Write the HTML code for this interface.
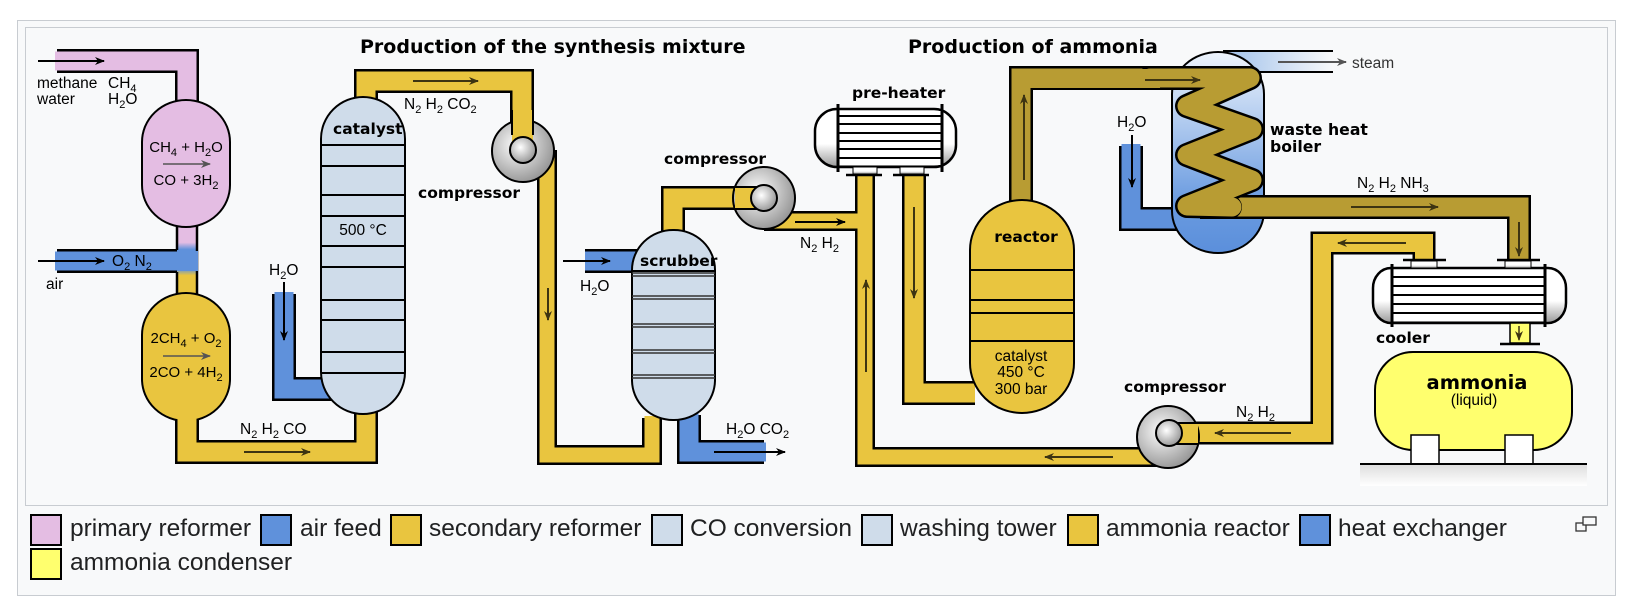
<!DOCTYPE html>
<html><head><meta charset="utf-8"><style>
html,body{margin:0;padding:0;background:#fff;}
#w{position:relative;width:1638px;height:614px;overflow:hidden;}
#frame{position:absolute;left:17px;top:20px;width:1597px;height:574px;border:1px solid #c8ccd1;background:#f8f9fa;}
#inner{position:absolute;left:25px;top:27px;width:1581px;height:477px;border:1px solid #c8ccd1;background:#f8f9fa;}
.lg{position:absolute;font-family:"Liberation Sans",sans-serif;font-size:24.5px;color:#202122;line-height:30px;}
.sw{position:absolute;width:28px;height:28px;border:2px solid #000;}
svg{position:absolute;left:0;top:0;}
</style></head><body><div id="w">
<div id="frame"></div><div id="inner"></div>
<svg width="1638" height="614" viewBox="0 0 1638 614" font-family="Liberation Sans, sans-serif">
<defs>
<marker id="ab" markerWidth="10" markerHeight="8" refX="9" refY="4" orient="auto" markerUnits="userSpaceOnUse"><path d="M0,0 L10,4 L0,8 L3,4z" fill="#000"/></marker>
<marker id="ad" markerWidth="10" markerHeight="8" refX="9" refY="4" orient="auto" markerUnits="userSpaceOnUse"><path d="M0,0 L10,4 L0,8 L3,4z" fill="#3d3412"/></marker>
<marker id="ag" markerWidth="10" markerHeight="8" refX="9" refY="4" orient="auto" markerUnits="userSpaceOnUse"><path d="M0,0 L10,4 L0,8 L3,4z" fill="#555"/></marker>
<radialGradient id="comp" cx="0.4" cy="0.4" r="0.7"><stop offset="0" stop-color="#fff"/><stop offset="1" stop-color="#8a8a8a"/></radialGradient>
<linearGradient id="hx" x1="0" y1="0" x2="0" y2="1"><stop offset="0" stop-color="#fff"/><stop offset="0.6" stop-color="#fff"/><stop offset="1" stop-color="#999"/></linearGradient>
<linearGradient id="boil" x1="0" y1="0" x2="0" y2="1"><stop offset="0" stop-color="#eef4fc"/><stop offset="0.75" stop-color="#6a9be0"/><stop offset="1" stop-color="#5b8fdb"/></linearGradient>
<linearGradient id="steam" x1="0" y1="0" x2="1" y2="0"><stop offset="0" stop-color="#9fc0ea"/><stop offset="1" stop-color="#f8f9fa"/></linearGradient>
<linearGradient id="mid" x1="0" y1="0" x2="0" y2="1"><stop offset="0" stop-color="#e4bde3"/><stop offset="0.25" stop-color="#e4bde3"/><stop offset="0.35" stop-color="#5f91db"/><stop offset="0.62" stop-color="#5f91db"/><stop offset="0.72" stop-color="#e9c53f"/><stop offset="1" stop-color="#e9c53f"/></linearGradient>
<linearGradient id="gnd" x1="0" y1="0" x2="0" y2="1"><stop offset="0" stop-color="#ddd"/><stop offset="1" stop-color="#fff"/></linearGradient>
</defs>

<text x="360" y="53" font-family="DejaVu Sans" font-weight="bold" font-size="19">Production of the synthesis mixture</text>
<text x="908" y="53" font-family="DejaVu Sans" font-weight="bold" font-size="19">Production of ammonia</text>

<path d="M57,61 H187 V102" fill="none" stroke="#000" stroke-width="24"/>
<path d="M55,61 H187 V104" fill="none" stroke="#e4bde3" stroke-width="19"/>
<path d="M57,261 H187" fill="none" stroke="#000" stroke-width="24"/>
<path d="M55,261 H187" fill="none" stroke="#5f91db" stroke-width="19"/>
<rect x="177" y="225" width="20" height="70" fill="url(#mid)"/>
<line x1="177" y1="225" x2="177" y2="250" stroke="#000" stroke-width="2.5"/>
<line x1="177" y1="272" x2="177" y2="295" stroke="#000" stroke-width="2.5"/>
<line x1="197" y1="225" x2="197" y2="295" stroke="#000" stroke-width="2.5"/>
<rect x="177" y="251" width="21" height="20" fill="#5f91db"/>
<line x1="38" y1="61" x2="104" y2="61" stroke="#000" stroke-width="2" marker-end="url(#ab)"/>
<line x1="38" y1="261" x2="104" y2="261" stroke="#000" stroke-width="2" marker-end="url(#ab)"/>
<g font-size="15.5">
<text x="37" y="88">methane</text><text x="108" y="88">CH<tspan font-size="11" dy="4">4</tspan></text>
<text x="37" y="104">water</text><text x="108" y="104">H<tspan font-size="11" dy="4">2</tspan><tspan dy="-4">O</tspan></text>
<text x="112" y="266">O<tspan font-size="11" dy="4">2</tspan><tspan dy="-4">  N</tspan><tspan font-size="11" dy="4">2</tspan></text>
<text x="46" y="289">air</text>
</g>

<rect x="142" y="100" width="88" height="127" rx="44" ry="42" fill="#e4bde3" stroke="#000" stroke-width="2"/>
<rect x="142" y="293" width="88" height="128" rx="44" ry="42" fill="#e9c53f" stroke="#000" stroke-width="2"/>
<g font-size="15" text-anchor="middle">
<text x="186" y="152">CH<tspan font-size="11" dy="4">4</tspan><tspan dy="-4"> + H</tspan><tspan font-size="11" dy="4">2</tspan><tspan dy="-4">O</tspan></text>
<text x="186" y="185">CO + 3H<tspan font-size="11" dy="4">2</tspan></text>
<text x="186" y="343">2CH<tspan font-size="11" dy="4">4</tspan><tspan dy="-4"> + O</tspan><tspan font-size="11" dy="4">2</tspan></text>
<text x="186" y="377">2CO + 4H<tspan font-size="11" dy="4">2</tspan></text>
</g>
<line x1="163" y1="164" x2="210" y2="164" stroke="#555" stroke-width="1.5" marker-end="url(#ag)"/>
<line x1="163" y1="356" x2="210" y2="356" stroke="#555" stroke-width="1.5" marker-end="url(#ag)"/>

<path d="M187,420 V452 H366 V412" fill="none" stroke="#000" stroke-width="24"/>
<path d="M187,418 V452 H366 V410" fill="none" stroke="#e9c53f" stroke-width="19"/>
<line x1="244" y1="452" x2="310" y2="452" stroke="#3d3412" stroke-width="2" marker-end="url(#ad)"/>
<text x="240" y="434" font-size="15.5">N<tspan font-size="11" dy="4">2</tspan><tspan dy="-4">  H</tspan><tspan font-size="11" dy="4">2</tspan><tspan dy="-4">  CO</tspan></text>

<path d="M284,294 V389 H335" fill="none" stroke="#000" stroke-width="24"/>
<path d="M284,292 V389 H335" fill="none" stroke="#5f91db" stroke-width="19"/>
<line x1="284" y1="282" x2="284" y2="340" stroke="#000" stroke-width="2" marker-end="url(#ab)"/>
<text x="269" y="275" font-size="15.5">H<tspan font-size="11" dy="4">2</tspan><tspan dy="-4">O</tspan></text>

<path d="M366,100 V81 H522 V150" fill="none" stroke="#000" stroke-width="24"/>
<path d="M366,102 V81 H522 V150" fill="none" stroke="#e9c53f" stroke-width="19"/>
<line x1="413" y1="81" x2="478" y2="81" stroke="#3d3412" stroke-width="2" marker-end="url(#ad)"/>
<text x="404" y="109" font-size="15.5">N<tspan font-size="11" dy="4">2</tspan><tspan dy="-4">  H</tspan><tspan font-size="11" dy="4">2</tspan><tspan dy="-4">  CO</tspan><tspan font-size="11" dy="4">2</tspan></text>

<rect x="321" y="97" width="84" height="317" rx="42" ry="42" fill="#cfdcea" stroke="#000" stroke-width="2"/>
<g stroke="#000" stroke-width="2">
<line x1="321" y1="145" x2="405" y2="145"/><line x1="321" y1="166" x2="405" y2="166"/>
<line x1="321" y1="195" x2="405" y2="195"/><line x1="321" y1="216" x2="405" y2="216"/>
<line x1="321" y1="246" x2="405" y2="246"/><line x1="321" y1="267" x2="405" y2="267"/>
<line x1="321" y1="300" x2="405" y2="300"/><line x1="321" y1="320" x2="405" y2="320"/>
<line x1="321" y1="352" x2="405" y2="352"/><line x1="321" y1="373" x2="405" y2="373"/>
</g>
<text x="333" y="134" font-family="DejaVu Sans" font-weight="bold" font-size="15.5">catalyst</text>
<text x="363" y="235" font-size="15.5" text-anchor="middle">500 °C</text>

<path d="M547,150 V455 H652 V418" fill="none" stroke="#000" stroke-width="20"/>
<path d="M547,150 V455 H652 V416" fill="none" stroke="#e9c53f" stroke-width="15"/>
<line x1="548" y1="288" x2="548" y2="320" stroke="#3d3412" stroke-width="2" marker-end="url(#ad)"/>
<circle cx="523" cy="151" r="31" fill="url(#comp)" stroke="#000" stroke-width="2"/>
<rect x="512" y="110" width="21" height="40" fill="#e9c53f"/>
<line x1="533" y1="92" x2="533" y2="135" stroke="#000" stroke-width="2"/>
<line x1="512" y1="110" x2="512" y2="135" stroke="#000" stroke-width="2"/>
<circle cx="523" cy="150" r="13" fill="url(#comp)" stroke="#000" stroke-width="2"/>
<text x="418" y="198" font-family="DejaVu Sans" font-weight="bold" font-size="15.5">compressor</text>

<path d="M585,261 H640" fill="none" stroke="#000" stroke-width="24"/>
<path d="M585,261 H640" fill="none" stroke="#5f91db" stroke-width="19"/>
<line x1="563" y1="261" x2="610" y2="261" stroke="#000" stroke-width="2" marker-end="url(#ab)"/>
<text x="580" y="291" font-size="15.5">H<tspan font-size="11" dy="4">2</tspan><tspan dy="-4">O</tspan></text>
<path d="M689,415 V452 H764" fill="none" stroke="#000" stroke-width="24"/>
<path d="M689,413 V452 H766" fill="none" stroke="#5f91db" stroke-width="19"/>
<line x1="714" y1="452" x2="785" y2="452" stroke="#000" stroke-width="2" marker-end="url(#ab)"/>
<text x="726" y="434" font-size="15.5">H<tspan font-size="11" dy="4">2</tspan><tspan dy="-4">O  CO</tspan><tspan font-size="11" dy="4">2</tspan></text>

<path d="M673,235 V198 H764" fill="none" stroke="#000" stroke-width="24"/>
<path d="M673,237 V198 H764" fill="none" stroke="#e9c53f" stroke-width="19"/>
<path d="M764,221 H865 M865,174 V457 H1168" fill="none" stroke="#000" stroke-width="20"/>
<path d="M764,221 H865 M865,172 V457 H1168" fill="none" stroke="#e9c53f" stroke-width="15"/>
<line x1="795" y1="222" x2="845" y2="222" stroke="#000" stroke-width="2" marker-end="url(#ab)"/>
<line x1="866" y1="372" x2="866" y2="280" stroke="#3d3412" stroke-width="2" marker-end="url(#ad)"/>
<line x1="1113" y1="457" x2="1045" y2="457" stroke="#3d3412" stroke-width="2" marker-end="url(#ad)"/>
<text x="800" y="248" font-size="15.5">N<tspan font-size="11" dy="4">2</tspan><tspan dy="-4">  H</tspan><tspan font-size="11" dy="4">2</tspan></text>

<rect x="632" y="230" width="83" height="190" rx="41" ry="40" fill="#cfdcea" stroke="#000" stroke-width="2"/>
<g stroke="#333" stroke-width="1.5">
<line x1="632" y1="273" x2="715" y2="273"/><line x1="632" y1="276" x2="715" y2="276"/>
<line x1="632" y1="296" x2="715" y2="296"/><line x1="632" y1="299" x2="715" y2="299"/>
<line x1="632" y1="324" x2="715" y2="324"/><line x1="632" y1="327" x2="715" y2="327"/>
<line x1="632" y1="350" x2="715" y2="350"/><line x1="632" y1="353" x2="715" y2="353"/>
<line x1="632" y1="375" x2="715" y2="375"/><line x1="632" y1="378" x2="715" y2="378"/>
</g>
<line x1="632" y1="271" x2="715" y2="271" stroke="#000" stroke-width="2"/>
<text x="640" y="266" font-family="DejaVu Sans" font-weight="bold" font-size="15.5">scrubber</text>

<circle cx="764" cy="198" r="31" fill="url(#comp)" stroke="#000" stroke-width="2"/>
<rect x="735" y="188" width="29" height="20" fill="#e9c53f"/>
<line x1="735" y1="187" x2="764" y2="187" stroke="#000" stroke-width="2"/>
<line x1="735" y1="209" x2="764" y2="209" stroke="#000" stroke-width="2"/>
<circle cx="764" cy="198" r="13" fill="url(#comp)" stroke="#000" stroke-width="2"/>
<text x="664" y="164" font-family="DejaVu Sans" font-weight="bold" font-size="15.5">compressor</text>

<path d="M914,174 V393 H975" fill="none" stroke="#000" stroke-width="24"/>
<path d="M914,172 V393 H975" fill="none" stroke="#e9c53f" stroke-width="19"/>
<line x1="914" y1="207" x2="914" y2="298" stroke="#3d3412" stroke-width="2" marker-end="url(#ad)"/>

<rect x="815" y="109" width="141" height="58" rx="22" ry="22" fill="url(#hx)" stroke="#000" stroke-width="2.5"/>
<rect x="838" y="111" width="104" height="54" fill="#fff"/>
<g stroke="#000" stroke-width="2">
<line x1="838" y1="116" x2="942" y2="116"/><line x1="838" y1="124" x2="942" y2="124"/>
<line x1="838" y1="133" x2="942" y2="133"/><line x1="838" y1="141" x2="942" y2="141"/>
<line x1="838" y1="149" x2="942" y2="149"/><line x1="838" y1="158" x2="942" y2="158"/>
</g>
<line x1="838" y1="104" x2="838" y2="172" stroke="#000" stroke-width="3"/>
<line x1="942" y1="104" x2="942" y2="172" stroke="#000" stroke-width="3"/>
<rect x="853" y="167" width="24" height="7" fill="url(#hx)" stroke="#000" stroke-width="1"/>
<rect x="900" y="167" width="24" height="7" fill="url(#hx)" stroke="#000" stroke-width="1"/>
<line x1="846" y1="175" x2="882" y2="175" stroke="#000" stroke-width="2.5"/>
<line x1="893" y1="175" x2="929" y2="175" stroke="#000" stroke-width="2.5"/>
<text x="852" y="98" font-family="DejaVu Sans" font-weight="bold" font-size="15.5">pre-heater</text>

<path d="M1021,205 V78 H1250" fill="none" stroke="#000" stroke-width="24"/>
<path d="M1021,207 V78 H1250" fill="none" stroke="#b89c33" stroke-width="19"/>
<line x1="1024" y1="180" x2="1024" y2="95" stroke="#3d3412" stroke-width="2" marker-end="url(#ad)"/>

<rect x="970" y="200" width="104" height="213" rx="52" ry="50" fill="#e9c53f" stroke="#000" stroke-width="2"/>
<g stroke="#000" stroke-width="2">
<line x1="970" y1="270" x2="1074" y2="270"/><line x1="970" y1="300" x2="1074" y2="300"/>
<line x1="970" y1="313" x2="1074" y2="313"/><line x1="970" y1="341" x2="1074" y2="341"/>
</g>
<text x="1026" y="242" font-family="DejaVu Sans" font-weight="bold" font-size="15.5" text-anchor="middle">reactor</text>
<g font-size="15.5" text-anchor="middle"><text x="1021" y="361">catalyst</text><text x="1021" y="377">450 °C</text><text x="1021" y="394">300 bar</text></g>

<rect x="1223" y="51" width="110" height="21" fill="url(#steam)"/>
<line x1="1223" y1="51" x2="1333" y2="51" stroke="#000" stroke-width="2"/>
<line x1="1223" y1="72" x2="1333" y2="72" stroke="#000" stroke-width="2"/>
<line x1="1278" y1="62" x2="1346" y2="62" stroke="#555" stroke-width="2" marker-end="url(#ag)"/>
<text x="1352" y="68" font-size="15.5" fill="#333">steam</text>

<path d="M1131,146 V219 H1180" fill="none" stroke="#000" stroke-width="24"/>
<path d="M1131,144 V219 H1180" fill="none" stroke="#5f91db" stroke-width="19"/>
<line x1="1132" y1="135" x2="1132" y2="187" stroke="#000" stroke-width="2" marker-end="url(#ab)"/>
<text x="1117" y="127" font-size="15.5">H<tspan font-size="11" dy="4">2</tspan><tspan dy="-4">O</tspan></text>

<rect x="1172" y="52" width="92" height="201" rx="46" ry="42" fill="url(#boil)" stroke="#000" stroke-width="2"/>
<path d="M1200,207 H1519 V262" fill="none" stroke="#000" stroke-width="24"/>
<path d="M1200,207 H1519 V264" fill="none" stroke="#b89c33" stroke-width="19"/>
<path d="M1150,78 H1250 L1187,106 L1252,129 L1187,155 L1252,180 L1187,206 L1230,207" fill="none" stroke="#000" stroke-width="24" stroke-linejoin="round" stroke-linecap="round"/>
<path d="M1150,78 H1250 L1187,106 L1252,129 L1187,155 L1252,180 L1187,206 L1232,207" fill="none" stroke="#b89c33" stroke-width="19" stroke-linejoin="round" stroke-linecap="round"/>
<rect x="1020" y="69" width="140" height="19" fill="#b89c33"/>
<line x1="1145" y1="80" x2="1200" y2="80" stroke="#3d3412" stroke-width="2" marker-end="url(#ad)"/>
<line x1="1351" y1="207" x2="1438" y2="207" stroke="#3d3412" stroke-width="2" marker-end="url(#ad)"/>
<line x1="1519" y1="222" x2="1519" y2="256" stroke="#3d3412" stroke-width="2" marker-end="url(#ad)"/>
<text x="1270" y="135" font-family="DejaVu Sans" font-weight="bold" font-size="15.7">waste heat</text>
<text x="1270" y="152" font-family="DejaVu Sans" font-weight="bold" font-size="15.7">boiler</text>
<text x="1357" y="188" font-size="15.5">N<tspan font-size="11" dy="4">2</tspan><tspan dy="-4">  H</tspan><tspan font-size="11" dy="4">2</tspan><tspan dy="-4">  NH</tspan><tspan font-size="11" dy="4">3</tspan></text>

<path d="M1424,262 V243 H1322 V433 H1168" fill="none" stroke="#000" stroke-width="23"/>
<path d="M1424,264 V243 H1322 V433 H1168" fill="none" stroke="#e9c53f" stroke-width="18"/>
<line x1="1406" y1="243" x2="1338" y2="243" stroke="#3d3412" stroke-width="2" marker-end="url(#ad)"/>
<line x1="1291" y1="433" x2="1215" y2="433" stroke="#3d3412" stroke-width="2" marker-end="url(#ad)"/>
<text x="1236" y="417" font-size="15.5">N<tspan font-size="11" dy="4">2</tspan><tspan dy="-4">  H</tspan><tspan font-size="11" dy="4">2</tspan></text>

<circle cx="1168" cy="437" r="31" fill="url(#comp)" stroke="#000" stroke-width="2"/>
<rect x="1168" y="424" width="30" height="19" fill="#e9c53f"/>
<line x1="1168" y1="423" x2="1198" y2="423" stroke="#000" stroke-width="2"/>
<line x1="1168" y1="444" x2="1198" y2="444" stroke="#000" stroke-width="2"/>
<circle cx="1169" cy="433" r="13" fill="url(#comp)" stroke="#000" stroke-width="2"/>
<text x="1124" y="392" font-family="DejaVu Sans" font-weight="bold" font-size="15.5">compressor</text>

<rect x="1373" y="268" width="193" height="55" rx="18" ry="20" fill="url(#hx)" stroke="#000" stroke-width="2.5"/>
<rect x="1393" y="270" width="152" height="51" fill="#fff"/>
<g stroke="#000" stroke-width="2">
<line x1="1393" y1="277" x2="1545" y2="277"/><line x1="1393" y1="286" x2="1545" y2="286"/>
<line x1="1393" y1="295" x2="1545" y2="295"/><line x1="1393" y1="304" x2="1545" y2="304"/>
<line x1="1393" y1="313" x2="1545" y2="313"/>
</g>
<line x1="1392" y1="264" x2="1392" y2="327" stroke="#000" stroke-width="3"/>
<line x1="1545" y1="264" x2="1545" y2="327" stroke="#000" stroke-width="3"/>
<rect x="1411" y="261" width="26" height="7" fill="url(#hx)" stroke="#000" stroke-width="1"/>
<rect x="1505" y="261" width="26" height="7" fill="url(#hx)" stroke="#000" stroke-width="1"/>
<line x1="1403" y1="260" x2="1446" y2="260" stroke="#000" stroke-width="2.5"/>
<line x1="1497" y1="260" x2="1540" y2="260" stroke="#000" stroke-width="2.5"/>
<text x="1376" y="343" font-family="DejaVu Sans" font-weight="bold" font-size="15.5">cooler</text>
<rect x="1510" y="323" width="20" height="20" fill="#ffff6e" stroke="#000" stroke-width="1.5"/>
<line x1="1519" y1="326" x2="1519" y2="340" stroke="#3d3412" stroke-width="1.5" marker-end="url(#ad)"/>
<line x1="1500" y1="344" x2="1540" y2="344" stroke="#000" stroke-width="2.5"/>
<rect x="1360" y="464" width="227" height="22" fill="url(#gnd)"/>
<rect x="1375" y="352" width="197" height="98" rx="38" ry="38" fill="#ffff6e" stroke="#000" stroke-width="2"/>
<rect x="1411" y="435" width="28" height="29" fill="#fff" stroke="#000" stroke-width="1.5"/>
<rect x="1505" y="435" width="28" height="29" fill="#fff" stroke="#000" stroke-width="1.5"/>
<line x1="1360" y1="464" x2="1587" y2="464" stroke="#000" stroke-width="2"/>
<text x="1477" y="389" font-family="DejaVu Sans" font-weight="bold" font-size="19.5" text-anchor="middle">ammonia</text>
<text x="1474" y="405" font-size="15.5" text-anchor="middle">(liquid)</text>

<rect x="1576" y="523" width="10" height="8" fill="none" stroke="#333" stroke-width="1.3"/>
<rect x="1583" y="517" width="13" height="8" fill="#f8f9fa" stroke="#333" stroke-width="1.3"/>
</svg>

<div class="sw" style="left:30px;top:514px;background:#e4bde3"></div><div class="lg" style="left:70px;top:514px">primary reformer</div>
<div class="sw" style="left:260px;top:514px;background:#5f91db"></div><div class="lg" style="left:300px;top:514px">air feed</div>
<div class="sw" style="left:390px;top:514px;background:#e9c53f"></div><div class="lg" style="left:429px;top:514px">secondary reformer</div>
<div class="sw" style="left:651px;top:514px;background:#cfdcea"></div><div class="lg" style="left:690px;top:514px">CO conversion</div>
<div class="sw" style="left:861px;top:514px;background:#cfdcea"></div><div class="lg" style="left:900px;top:514px">washing tower</div>
<div class="sw" style="left:1067px;top:514px;background:#e9c53f"></div><div class="lg" style="left:1106px;top:514px">ammonia reactor</div>
<div class="sw" style="left:1299px;top:514px;background:#5f91db"></div><div class="lg" style="left:1338px;top:514px">heat exchanger</div>
<div class="sw" style="left:30px;top:548px;background:#ffff6e"></div><div class="lg" style="left:70px;top:548px">ammonia condenser</div>
</div></body></html>
